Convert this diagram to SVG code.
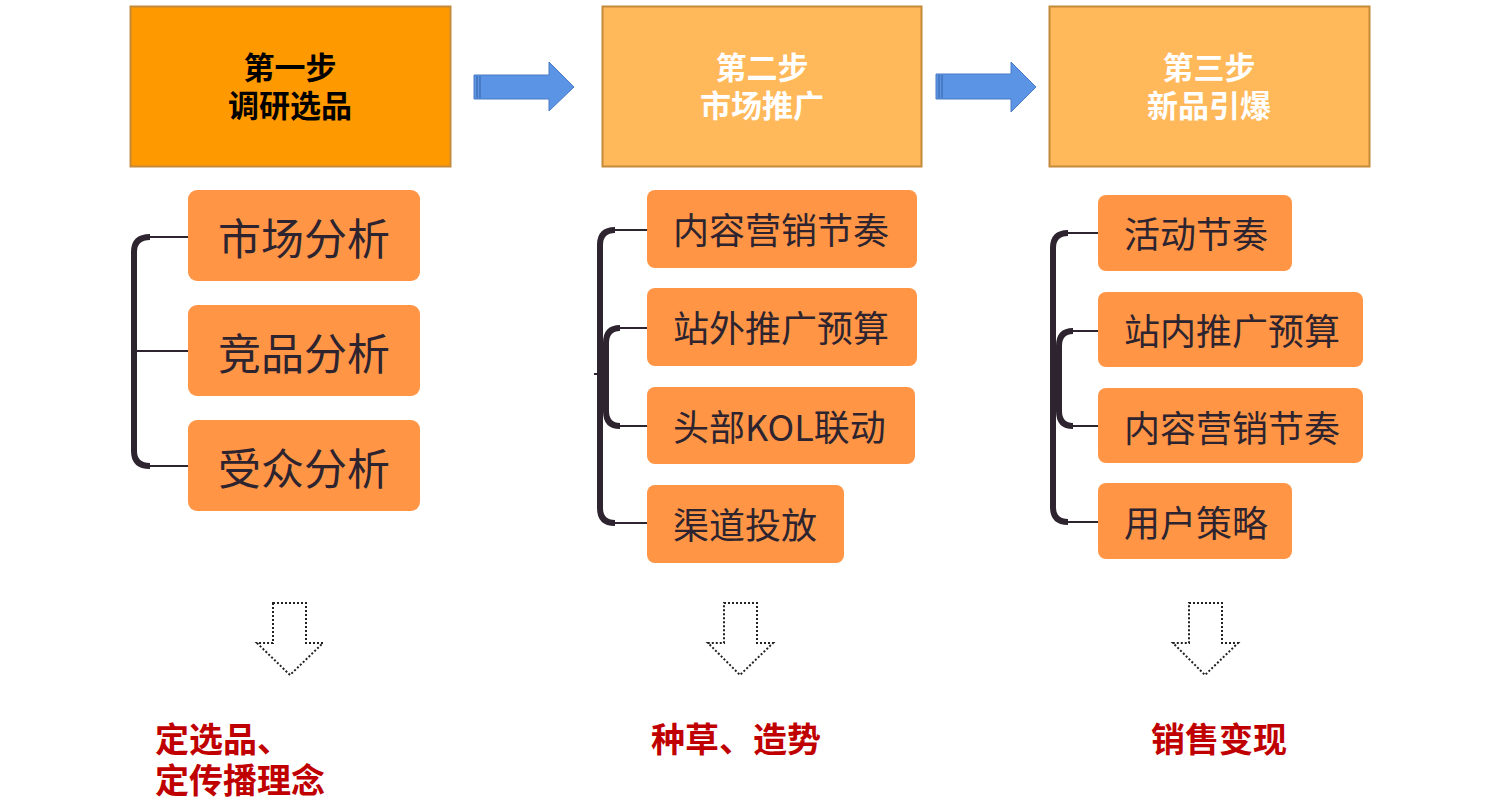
<svg xmlns="http://www.w3.org/2000/svg" width="1505" height="811" viewBox="0 0 1505 811">
<style>
.hd{font-family:"Noto Sans CJK SC","Liberation Sans",sans-serif;font-weight:bold;font-size:31px;text-anchor:middle}
.sb{fill:#FF9545}
.st{font-family:"Noto Sans CJK SC","Liberation Sans",sans-serif;font-size:36px;fill:#2D2430}
.st1{font-size:43px;text-anchor:middle}
.res{font-family:"Noto Sans CJK SC","Liberation Sans",sans-serif;font-weight:bold;font-size:34px;fill:#C00000}
.br{fill:none;stroke:#2D2430;stroke-width:6}
.tk{fill:none;stroke:#2D2430;stroke-width:2}
.ar{fill:#5B94E4;stroke:#4A7BC4;stroke-width:1}
.da{fill:none;stroke:#222;stroke-width:2;stroke-dasharray:2 2}
</style>
<rect width="1505" height="811" fill="#fff"/>
<g id="step1">
<rect x="130.5" y="6.5" width="320" height="160" fill="#FF9900" stroke="#C48A3A" stroke-width="2"/>
<text class="hd" x="290" y="79" fill="#000">第一步</text>
<text class="hd" x="290" y="117" fill="#000">调研选品</text>
</g>
<g id="step2">
<rect x="602.5" y="6.5" width="319" height="160" fill="#FFB95B" stroke="#C48A3A" stroke-width="2"/>
<text class="hd" x="762" y="79" fill="#fff">第二步</text>
<text class="hd" x="762" y="117" fill="#fff">市场推广</text>
</g>
<g id="step3">
<rect x="1049.5" y="6.5" width="320" height="160" fill="#FFB95B" stroke="#C48A3A" stroke-width="2"/>
<text class="hd" x="1209" y="79" fill="#fff">第三步</text>
<text class="hd" x="1209" y="117" fill="#fff">新品引爆</text>
</g>
<g id="c1a"><rect class="sb" x="188" y="190" width="232" height="91" rx="9"/><text class="st st1" x="304" y="255">市场分析</text></g>
<g id="c1b"><rect class="sb" x="188" y="305" width="232" height="91" rx="9"/><text class="st st1" x="304" y="370">竞品分析</text></g>
<g id="c1c"><rect class="sb" x="188" y="420" width="232" height="91" rx="9"/><text class="st st1" x="304" y="485">受众分析</text></g>
<g id="c2a"><rect class="sb" x="647" y="190" width="270" height="78" rx="8"/><text class="st" x="673" y="244">内容营销节奏</text></g>
<g id="c2b"><rect class="sb" x="647" y="288" width="270" height="78" rx="8"/><text class="st" x="673" y="342">站外推广预算</text></g>
<g id="c2c"><rect class="sb" x="647" y="387" width="268" height="77" rx="8"/><text class="st" x="673" y="441">头部KOL联动</text></g>
<g id="c2d"><rect class="sb" x="647" y="485" width="197" height="78" rx="8"/><text class="st" x="673" y="539">渠道投放</text></g>
<g id="c3a"><rect class="sb" x="1098" y="195" width="194" height="76" rx="8"/><text class="st" x="1124" y="248">活动节奏</text></g>
<g id="c3b"><rect class="sb" x="1098" y="292" width="265" height="75" rx="8"/><text class="st" x="1124" y="345">站内推广预算</text></g>
<g id="c3c"><rect class="sb" x="1098" y="388" width="265" height="75" rx="8"/><text class="st" x="1124" y="442">内容营销节奏</text></g>
<g id="c3d"><rect class="sb" x="1098" y="483" width="194" height="76" rx="8"/><text class="st" x="1124" y="537">用户策略</text></g>
<g id="r1"><text class="res" x="155" y="752">定选品、</text><text class="res" x="155" y="793">定传播理念</text></g>
<g id="r2"><text class="res" x="651" y="752">种草、造势</text></g>
<g id="r3"><text class="res" x="1151" y="752">销售变现</text></g>
<g id="connectors">
<path class="br" d="M150 237 Q134 237 134 252 L134 451 Q134 466 150 466"/>
<path class="tk" d="M145 237 H188 M134 351 H188 M145 466 H188"/>
<path class="br" d="M615 230 Q600 230 600 245 L600 508 Q600 523 615 523"/>
<path class="br" d="M620 328 Q606 328 606 343 L606 411 Q606 426 620 426"/>
<path class="tk" d="M612 230 H647 M615 328 H647 M615 426 H647 M612 523 H647 M594 374 H600"/>
<path class="br" d="M1068 233 Q1053 233 1053 248 L1053 507 Q1053 522 1068 522"/>
<path class="br" d="M1073 331 Q1059 331 1059 346 L1059 411 Q1059 426 1073 426"/>
<path class="tk" d="M1065 233 H1098 M1068 331 H1098 M1068 426 H1098 M1065 522 H1098"/>
<path class="ar" d="M474 75 H549 V62 L574 87 L549 111 V99 H474 Z"/>
<path d="M477 76 V98 M480 76 V98" stroke="#3E6AB0" stroke-width="1.2"/>
<path class="ar" d="M936 74 H1011 V62 L1036 87 L1011 112 V99 H936 Z"/>
<path d="M939 75 V98 M942 75 V98" stroke="#3E6AB0" stroke-width="1.2"/>
<path class="da" d="M273 603 H306 V643 H323 L290 675 L257 643 H273 Z"/>
<path class="da" d="M724 603 H757 V643 H773 L740 675 L708 643 H724 Z"/>
<path class="da" d="M1189 603 H1222 V643 H1238 L1205 675 L1173 643 H1189 Z"/>
</g>
</svg>
